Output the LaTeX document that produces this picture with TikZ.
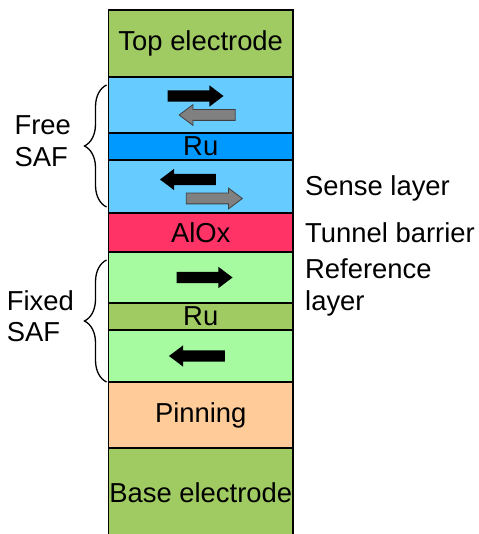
\documentclass[tikz,border=0pt]{standalone}
\usepackage{fontspec}
\setmainfont{Liberation Sans}
\usetikzlibrary{positioning,shapes.arrows,decorations.pathreplacing}
\definecolor{electrode}{HTML}{A0CB63}
\definecolor{freeblue}{HTML}{66CCFF}
\definecolor{rublue}{HTML}{0099FF}
\definecolor{alox}{HTML}{FF3366}
\definecolor{refgreen}{HTML}{A6FBA1}
\definecolor{pinning}{HTML}{FFCC99}
\tikzset{
  layer/.style={draw,line width=1.3pt,minimum width=184.5pt,inner sep=0pt,outer sep=0pt,font=\fontsize{27.4}{31}\selectfont},
  mag/.style={single arrow,fill=black,minimum height=56pt,text height=11pt,text depth=0pt,single arrow head extend=5pt,single arrow tip angle=74,inner sep=0pt},
  magback/.style={mag,fill=black!50,draw=black!75,line width=0.8pt,text height=10pt},
  lbl/.style={font=\fontsize{27.4}{31.5}\selectfont,align=left,inner sep=0pt},
  brace/.style={decorate,decoration={brace,amplitude=22pt},line width=1.3pt},
  bracelbl/.style={lbl,anchor=east,xshift=-35pt,yshift=5pt}
}
\begin{document}
\begin{tikzpicture}[x=1pt,y=-1pt,node distance=0pt]
\useasboundingbox (0,0) rectangle (478,534);
% layer stack
\node[layer,fill=electrode,minimum height=67pt,anchor=north] (top) at (200.75,10) {Top electrode};
\node[layer,fill=freeblue,minimum height=56pt,below=of top] (free1) {};
\node[layer,fill=rublue,minimum height=27pt,below=of free1] (ru1) {Ru};
\node[layer,fill=freeblue,minimum height=53pt,below=of ru1] (free2) {};
\node[layer,fill=alox,minimum height=39pt,below=of free2] (alox) {AlOx};
\node[layer,fill=refgreen,minimum height=51pt,below=of alox] (ref1) {};
\node[layer,fill=electrode,minimum height=27pt,below=of ref1] (ru2) {Ru};
\node[layer,fill=refgreen,minimum height=52pt,below=of ru2] (ref2) {};
\node[layer,fill=pinning,minimum height=66pt,below=of ref2] (pin) {Pinning};
\node[layer,fill=electrode,minimum height=90pt,below=of pin] (base) {Base electrode};
% magnetisation
\node[mag] (m1) at ([xshift=-9pt,yshift=9pt]free1.center) {};
\node[magback,rotate=180] (m2) at ([xshift=10pt,yshift=-10pt]free1.center) {};
\node[mag,rotate=180] (m3) at ([xshift=-9pt,yshift=7pt]free2.center) {};
\node[magback] (m4) at ([xshift=10pt,yshift=-12pt]free2.center) {};
\node[mag] (m5) at (ref1.center) {};
\node[mag,rotate=180] (m6) at (ref2.center) {};
% braces
\draw[brace] ([xshift=-2pt,yshift=6pt]free2.south west) -- node[bracelbl] (freelbl) {Free\\SAF} ([xshift=-2pt,yshift=-8pt]free1.north west);
\draw[brace] ([xshift=-2pt]ref2.south west) -- node[bracelbl,xshift=3pt] (fixedlbl) {Fixed\\SAF} ([xshift=-2pt,yshift=-8pt]ref1.north west);
% labels on the right
\node[lbl,right=12pt of free2,yshift=-2pt] (sense) {Sense layer};
\node[lbl,right=12pt of alox] (tunnel) {Tunnel barrier};
\node[lbl,right=12pt of ref1,yshift=-10pt] (reflbl) {Reference\\layer};
\end{tikzpicture}
\end{document}
